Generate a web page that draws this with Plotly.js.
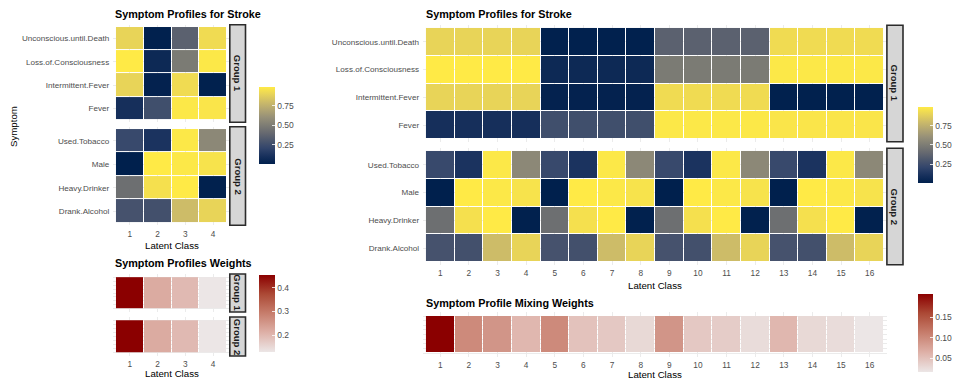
<!DOCTYPE html>
<html>
<head>
<meta charset="utf-8">
<script src="https://cdn.plot.ly/plotly-3.0.1.min.js"></script>
<style>
  html, body { margin: 0; padding: 0; background: #ffffff; }
  #chart { width: 969px; height: 388px; }
</style>
</head>
<body>
<div id="chart"></div>
<script>
// symptom rows, top to bottom
const groupOneSymptoms = ["Unconscious.until.Death", "Loss.of.Consciousness", "Intermittent.Fever", "Fever"];
const groupTwoSymptoms = ["Used.Tobacco", "Male", "Heavy.Drinker", "Drank.Alcohol"];

const fourClasses = [1, 2, 3, 4];
const sixteenClasses = [1, 2, 3, 4, 5, 6, 7, 8, 9, 10, 11, 12, 13, 14, 15, 16];

// per-group profiles (left chart), rows follow the symptom lists
const groupOneProfile = [
  [0.90, 0.01, 0.36, 0.93],
  [0.99, 0.06, 0.49, 0.98],
  [0.90, 0.02, 0.93, 0.01],
  [0.10, 0.26, 0.98, 0.97]
];
const groupTwoProfile = [
  [0.23, 0.12, 0.98, 0.56],
  [0.005, 0.99, 0.98, 0.96],
  [0.43, 0.95, 0.99, 0.01],
  [0.28, 0.27, 0.80, 0.90]
];

// joint profiles (right chart)
const jointGroupOneProfile = [
  [0.90, 0.90, 0.90, 0.90, 0.01, 0.01, 0.01, 0.01, 0.36, 0.36, 0.36, 0.36, 0.93, 0.93, 0.93, 0.93],
  [0.99, 0.99, 0.99, 0.99, 0.06, 0.06, 0.06, 0.06, 0.49, 0.49, 0.49, 0.49, 0.98, 0.98, 0.98, 0.98],
  [0.90, 0.90, 0.90, 0.90, 0.02, 0.02, 0.02, 0.02, 0.93, 0.93, 0.93, 0.93, 0.01, 0.01, 0.01, 0.01],
  [0.10, 0.10, 0.10, 0.10, 0.26, 0.26, 0.26, 0.26, 0.98, 0.98, 0.98, 0.98, 0.97, 0.97, 0.97, 0.97]
];
const jointGroupTwoProfile = [
  [0.23, 0.12, 0.98, 0.56, 0.23, 0.12, 0.98, 0.56, 0.23, 0.12, 0.98, 0.56, 0.23, 0.12, 0.98, 0.56],
  [0.005, 0.99, 0.98, 0.96, 0.005, 0.99, 0.98, 0.96, 0.005, 0.99, 0.98, 0.96, 0.005, 0.99, 0.98, 0.96],
  [0.43, 0.95, 0.99, 0.01, 0.43, 0.95, 0.99, 0.01, 0.43, 0.95, 0.99, 0.01, 0.43, 0.95, 0.99, 0.01],
  [0.28, 0.27, 0.80, 0.90, 0.28, 0.27, 0.80, 0.90, 0.28, 0.27, 0.80, 0.90, 0.28, 0.27, 0.80, 0.90]
];

const groupOneWeights = [0.455, 0.22, 0.197, 0.128];
const groupTwoWeights = [0.455, 0.22, 0.197, 0.128];
const mixingWeights = [0.207, 0.100, 0.090, 0.058, 0.100, 0.048, 0.043, 0.028,
                       0.090, 0.043, 0.039, 0.025, 0.058, 0.028, 0.025, 0.016];

const profileTicks = [0.25, 0.5, 0.75];
const profileTickText = ["0.25", "0.50", "0.75"];
const weightTicks = [0.2, 0.3, 0.4];
const weightTickText = ["0.2", "0.3", "0.4"];
const mixingTicks = [0.05, 0.10, 0.15];
const mixingTickText = ["0.05", "0.10", "0.15"];

// ---- pixel helpers ----
const W = 969, H = 388;
const px = (v) => v / W;
const py = (v) => 1 - v / H;
const xdom = (a, b) => [a / W, b / W];
const ydom = (top, bottom) => [1 - bottom / H, 1 - top / H];

const FONT = "Liberation Sans, Arial, Helvetica, sans-serif";
const tickGray = "#4d4d4d";
const gridGray = "#ebebeb";

// cividis, six anchors like viridis_pal(option = "E")
const cividisScale = [
  [0, "#00204d"], [0.1, "#17305c"], [0.2, "#31446b"], [0.3, "#4b566d"], [0.4, "#666970"],
  [0.5, "#7d7c74"], [0.6, "#958f78"], [0.7, "#b0a473"], [0.8, "#cbba69"], [0.9, "#e6d25a"], [1, "#ffea46"]
];
const redScale = [
  [0, "#ece6e6"], [0.25, "#deb1a8"], [0.5, "#c77e6d"], [0.75, "#ac4a36"], [1, "#8b0000"]
];

function colorbar(x, top, bottom, thick, vals, text) {
  return {
    x: px(x), xanchor: "left", xpad: 0,
    y: py((top + bottom) / 2), yanchor: "middle", ypad: 0,
    len: bottom - top, lenmode: "pixels",
    thickness: thick, outlinewidth: 0,
    ticks: "inside", ticklen: 3, tickcolor: "rgba(255,255,255,0.8)",
    tickvals: vals, ticktext: text,
    tickfont: { size: 8.5, color: tickGray, family: FONT }
  };
}

function xAxis(dom, anchor, nClasses, showLabels) {
  return {
    domain: dom, anchor: anchor,
    range: [0.4, nClasses + 0.6],
    tickvals: nClasses === 4 ? fourClasses : sixteenClasses,
    showticklabels: showLabels,
    ticks: "", ticklabelstandoff: 2,
    tickfont: { size: 8.3, color: tickGray, family: FONT },
    showgrid: true, gridcolor: gridGray, gridwidth: 1,
    zeroline: false, showline: false, fixedrange: true
  };
}

function catYAxis(dom, anchor) {
  return {
    domain: dom, anchor: anchor,
    range: [3.6, -0.6],
    ticks: "", ticklabelstandoff: 3,
    tickfont: { size: 8.1, color: tickGray, family: FONT },
    showgrid: true, gridcolor: gridGray,
    zeroline: false, showline: false, fixedrange: true
  };
}

function blankYAxis(dom, anchor) {
  return {
    domain: dom, anchor: anchor,
    range: [-0.6, 0.6],
    tickvals: [-0.5, -0.375, -0.25, -0.125, 0, 0.125, 0.25, 0.375, 0.5],
    showticklabels: false, ticks: "",
    showgrid: true, gridcolor: gridGray,
    zeroline: false, showline: false, fixedrange: true
  };
}

const tileStyle = { xgap: 1, ygap: 1, hoverinfo: "skip" };

const traces = [
  { type: "heatmap", x: fourClasses, y: groupOneSymptoms, z: groupOneProfile, coloraxis: "coloraxis", xaxis: "x", yaxis: "y", ...tileStyle },
  { type: "heatmap", x: fourClasses, y: groupTwoSymptoms, z: groupTwoProfile, coloraxis: "coloraxis", xaxis: "x2", yaxis: "y2", ...tileStyle },
  { type: "heatmap", x: fourClasses, y: [0], z: [groupOneWeights], coloraxis: "coloraxis2", xaxis: "x3", yaxis: "y3", ...tileStyle },
  { type: "heatmap", x: fourClasses, y: [0], z: [groupTwoWeights], coloraxis: "coloraxis2", xaxis: "x4", yaxis: "y4", ...tileStyle },
  { type: "heatmap", x: sixteenClasses, y: groupOneSymptoms, z: jointGroupOneProfile, coloraxis: "coloraxis3", xaxis: "x5", yaxis: "y5", ...tileStyle },
  { type: "heatmap", x: sixteenClasses, y: groupTwoSymptoms, z: jointGroupTwoProfile, coloraxis: "coloraxis3", xaxis: "x6", yaxis: "y6", ...tileStyle },
  { type: "heatmap", x: sixteenClasses, y: [0], z: [mixingWeights], coloraxis: "coloraxis4", xaxis: "x7", yaxis: "y7", ...tileStyle }
];

// panel boxes in pixels
const leftX = [113.2, 229.8];
const rightX = [423.1, 886.9];

function strip(x0, x1, top, bottom) {
  return {
    type: "rect", xref: "paper", yref: "paper",
    x0: px(x0), x1: px(x1), y0: py(bottom), y1: py(top),
    fillcolor: "#d6d6d6", line: { color: "#2b2b2b", width: 1.6 }, layer: "above"
  };
}

function stripLabel(text, x0, x1, top, bottom) {
  return {
    xref: "paper", yref: "paper",
    x: px((x0 + x1) / 2), y: py((top + bottom) / 2),
    text: "<b>" + text + "</b>", textangle: 90, showarrow: false,
    font: { size: 9.5, color: "#1a1a1a", family: FONT },
    xanchor: "center", yanchor: "middle"
  };
}

function label(text, x, y, opts) {
  return Object.assign({
    xref: "paper", yref: "paper", x: px(x), y: py(y), text: text,
    showarrow: false, xanchor: "center", yanchor: "middle",
    font: { size: 9.7, color: "#000000", family: FONT }
  }, opts || {});
}

const titleFont = { size: 10.8, color: "#000000", family: FONT };

const layout = {
  width: W, height: H,
  margin: { l: 0, r: 0, t: 0, b: 0 },
  paper_bgcolor: "#ffffff", plot_bgcolor: "rgba(0,0,0,0)",
  showlegend: false,
  font: { family: FONT, color: tickGray },

  xaxis: xAxis(xdom(...leftX), "y", 4, false),
  yaxis: catYAxis(ydom(24.7, 122.3), "x"),
  xaxis2: xAxis(xdom(...leftX), "y2", 4, true),
  yaxis2: catYAxis(ydom(126.7, 225.3), "x2"),
  xaxis3: xAxis(xdom(...leftX), "y3", 4, false),
  yaxis3: blankYAxis(ydom(274, 312), "x3"),
  xaxis4: xAxis(xdom(...leftX), "y4", 4, true),
  yaxis4: blankYAxis(ydom(317, 356), "x4"),
  xaxis5: xAxis(xdom(...rightX), "y5", 16, false),
  yaxis5: catYAxis(ydom(25.2, 141.8), "x5"),
  xaxis6: xAxis(xdom(...rightX), "y6", 16, true),
  yaxis6: catYAxis(ydom(148.2, 264.8), "x6"),
  xaxis7: xAxis(xdom(...rightX), "y7", 16, true),
  yaxis7: blankYAxis(ydom(312.3, 356.7), "x7"),

  coloraxis: { colorscale: cividisScale, colorbar: colorbar(259, 87, 164, 16, profileTicks, profileTickText) },
  coloraxis2: { colorscale: redScale, colorbar: colorbar(259, 275, 352, 16, weightTicks, weightTickText) },
  coloraxis3: { colorscale: cividisScale, colorbar: colorbar(918, 107, 183, 15, profileTicks, profileTickText) },
  coloraxis4: { colorscale: redScale, colorbar: colorbar(918, 294, 372, 15, mixingTicks, mixingTickText) },

  shapes: [
    strip(229.8, 245.5, 24.7, 122.3),
    strip(229.8, 245.5, 126.7, 225.3),
    strip(229.8, 245.5, 274, 312),
    strip(229.8, 245.5, 317, 356),
    strip(886.9, 903, 25.2, 141.8),
    strip(886.9, 903, 148.2, 264.8)
  ],

  annotations: [
    stripLabel("Group 1", 229.8, 245.5, 24.7, 122.3),
    stripLabel("Group 2", 229.8, 245.5, 126.7, 225.3),
    stripLabel("Group 1", 229.8, 245.5, 274, 312),
    stripLabel("Group 2", 229.8, 245.5, 317, 356),
    stripLabel("Group 1", 886.9, 903, 25.2, 141.8),
    stripLabel("Group 2", 886.9, 903, 148.2, 264.8),

    label("<b>Symptom Profiles for Stroke</b>", 113, 14, { xanchor: "left", font: titleFont }),
    label("<b>Symptom Profiles for Stroke</b>", 424, 14, { xanchor: "left", font: titleFont }),
    label("<b>Symptom Profiles Weights</b>", 113, 263, { xanchor: "left", font: titleFont }),
    label("<b>Symptom Profile Mixing Weights</b>", 424, 303, { xanchor: "left", font: titleFont }),

    label("Latent Class", 171.5, 245),
    label("Latent Class", 655, 285),
    label("Latent Class", 171.5, 373),
    label("Latent Class", 655, 374),
    label("Symptom", 14, 127, { textangle: -90 })
  ]
};

Plotly.newPlot("chart", traces, layout, { displayModeBar: false, staticPlot: true });
</script>
</body>
</html>
